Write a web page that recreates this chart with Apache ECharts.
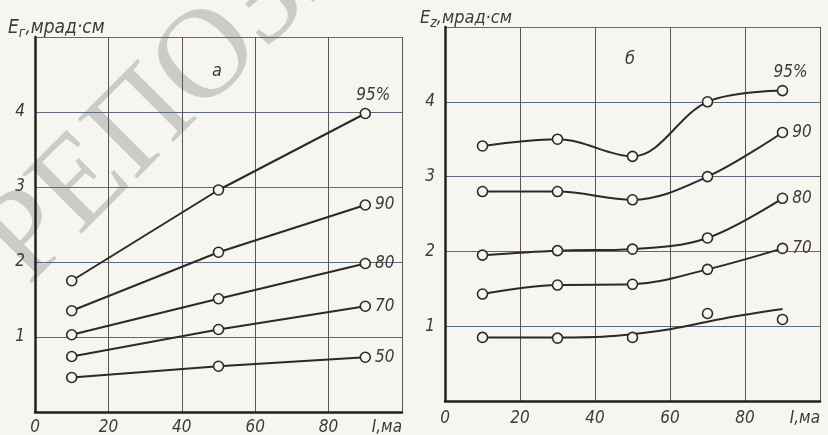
<!DOCTYPE html>
<html><head><meta charset="utf-8">
<script src="https://cdn.jsdelivr.net/npm/echarts@6/dist/echarts.min.js"></script>
<style>html,body{margin:0;padding:0;background:#f6f5ef;}#c{width:828px;height:435px;}</style>
</head><body><div id="c"></div>
<script>
// ---- data ----
const xTickLabels = ['0', '20', '40', '60', '80', 'I,ма'];
const yTickLabels = ['', '1', '2', '3', '4', ''];
// panel a (E_r)
const xA = [10, 50, 90];
const a95 = [1.75, 2.96, 3.98];
const a90 = [1.35, 2.13, 2.76];
const a80 = [1.03, 1.51, 1.98];
const a70 = [0.74, 1.10, 1.41];
const a50 = [0.46, 0.61, 0.73];
// panel б (E_z)
const xB = [10, 30, 50, 70, 90];
const b95 = [3.41, 3.50, 3.27, 4.00, 4.15];
const b90 = [2.80, 2.80, 2.69, 3.00, 3.59];
const b80 = [1.95, 2.01, 2.03, 2.18, 2.71];
const b70 = [1.43, 1.55, 1.56, 1.76, 2.04];
const b50pts = [0.85, 0.84, 0.85, 1.17, 1.09];
const xB50fit = [10, 30, 45, 60, 75, 90];
const b50fit = [0.85, 0.85, 0.87, 0.96, 1.11, 1.23];

const FONT = '"Liberation Sans Narrow","DejaVu Sans Condensed","Liberation Sans",sans-serif';
const INK = '#2a2a2a';
const TXT = '#3c3c3c';
const BG = '#f6f5ef';

function pts(xs, ys, name, pos, off) {
  return xs.map((x, i) => {
    if (name && i === xs.length - 1) {
      return {value: [x, ys[i]], label: {show: true, formatter: name, position: pos, distance: 4, offset: off || [0, 0],
        fontFamily: FONT, fontStyle: 'italic', fontSize: 17, color: TXT}};
    }
    return [x, ys[i]];
  });
}
const SYM = {symbol: 'circle', symbolSize: 10};
const ITEM = {color: BG, borderColor: INK, borderWidth: 1.6, opacity: 1};
function lineSeries(idx, xs, ys, name, pos, off, smooth) {
  return Object.assign({type: 'line', xAxisIndex: idx, yAxisIndex: idx, data: pts(xs, ys, name, pos, off),
    smooth: smooth ? 0.35 : false, showSymbol: true,
    lineStyle: {color: INK, width: 2}, itemStyle: ITEM,
    emphasis: {disabled: true}, silent: true, z: 3}, SYM);
}

function xAx(gi, margin) {
  return {type: 'value', gridIndex: gi, min: 0, max: 100, interval: 20, z: 2,
    axisLine: {show: true, lineStyle: {color: '#222', width: 2.5}},
    axisTick: {show: false},
    axisLabel: {formatter: v => xTickLabels[Math.round(v / 20)], fontFamily: FONT, fontStyle: 'italic', fontSize: 17, color: TXT, margin: margin, alignMaxLabel: 'right', showMaxLabel: true, showMinLabel: true},
    splitLine: {show: true, lineStyle: {color: '#555', width: 1}}};
}
function yAx(gi) {
  return {type: 'value', gridIndex: gi, min: 0, max: 5, interval: 1, z: 2,
    axisLine: {show: true, lineStyle: {color: '#222', width: 2.5}},
    axisTick: {show: false},
    axisLabel: {formatter: v => yTickLabels[Math.round(v)], fontFamily: FONT, fontStyle: 'italic', fontSize: 17, color: TXT, margin: 10},
    splitLine: {show: true, lineStyle: {color: '#5b6a7c', width: 1}}};
}

const chart = echarts.init(document.getElementById('c'), null, {renderer: 'canvas'});
chart.setOption({
  backgroundColor: BG,
  animation: false,
  grid: [
    {left: 35, top: 37, width: 367, height: 375, outerBoundsMode: 'none', containLabel: false},
    {left: 445, top: 27, width: 375, height: 374, outerBoundsMode: 'none', containLabel: false}
  ],
  xAxis: [xAx(0, 7), xAx(1, 9)],
  yAxis: [yAx(0), yAx(1)],
  graphic: {
    z: -10, zlevel: 0,
    elements: [
      {type: 'text', x: 50, y: 308, rotation: Math.PI / 4, z: -10, silent: true,
        style: {text: 'РЕПОЗИТОРИЙ', font: '128px "Liberation Serif"', fill: '#cbcbc8', verticalAlign: 'bottom'}},
      {type: 'text', x: 8, y: 17, z: 5, silent: true,
        style: {text: 'E{s|г},мрад·см', rich: {s: {fontFamily: FONT, fontStyle: 'italic', fontSize: 14, padding: [9, 0, 0, 0], fill: TXT}},
          fontFamily: FONT, fontStyle: 'italic', fontSize: 19, fill: TXT}},
      {type: 'text', x: 420, y: 7, z: 5, silent: true,
        style: {text: 'E{s|z},мрад·см', rich: {s: {fontFamily: FONT, fontStyle: 'italic', fontSize: 14, padding: [9, 0, 0, 0], fill: TXT}},
          fontFamily: FONT, fontStyle: 'italic', fontSize: 18, fill: TXT}},
      {type: 'text', x: 212, y: 62, z: 5, silent: true,
        style: {text: 'a', fontFamily: FONT, fontStyle: 'italic', fontSize: 18, fill: TXT}},
      {type: 'text', x: 625, y: 50, z: 5, silent: true,
        style: {text: 'б', fontFamily: FONT, fontStyle: 'italic', fontSize: 18, fill: TXT}}
    ]
  },
  series: [
    lineSeries(0, xA, a95, '95%', 'top', [8, 0]),
    lineSeries(0, xA, a90, '90', 'right'),
    lineSeries(0, xA, a80, '80', 'right'),
    lineSeries(0, xA, a70, '70', 'right'),
    lineSeries(0, xA, a50, '50', 'right'),
    lineSeries(1, xB, b95, '95%', 'top', [8, 0], true),
    lineSeries(1, xB, b90, '90', 'right', null, true),
    lineSeries(1, xB, b80, '80', 'right', null, true),
    lineSeries(1, xB, b70, '70', 'right', null, true),
    {type: 'line', xAxisIndex: 1, yAxisIndex: 1, data: pts(xB50fit, b50fit, '50', 'right', [2, -8]),
      smooth: 0.35, symbol: 'none', showSymbol: false, lineStyle: {color: INK, width: 2},
      emphasis: {disabled: true}, silent: true, z: 3},
    Object.assign({type: 'scatter', xAxisIndex: 1, yAxisIndex: 1, data: pts(xB, b50pts),
      itemStyle: ITEM, emphasis: {disabled: true}, silent: true, z: 4}, SYM)
  ]
});
</script></body></html>
